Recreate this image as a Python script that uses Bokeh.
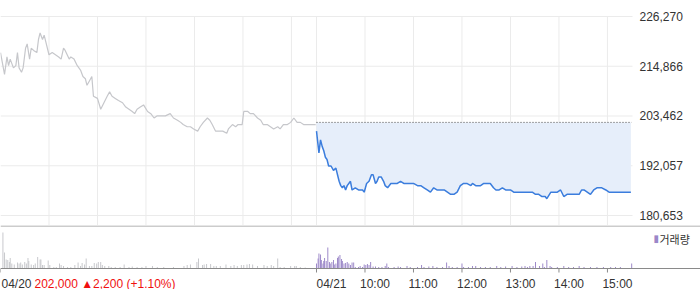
from bokeh.plotting import figure
from bokeh.layouts import column
from bokeh.models import Range1d, Span
from bokeh.core.properties import value
from bokeh.embed import file_html
from bokeh.resources import INLINE

# ---------------- data ----------------
day_labels = ["04/20", "04/21"]
hour_labels = ["10:00", "11:00", "12:00", "13:00", "14:00", "15:00"]
session_len = 391          # minutes 09:00..15:30 inclusive
prev_close = 202000
price_text = "202,000 ▲2,200 (+1.10%)"
legend_text = "거래량"
y_ticks = [180653, 192057, 203462, 214866, 226270]

# 04/20 price (minutes after 09:00)
d1_min = [0, 5, 8, 10, 12, 16, 19, 21, 23, 26, 28, 31, 33, 36, 38, 41, 45, 47, 49, 52,
          54, 56, 60, 64, 68, 72, 75, 78, 80, 85, 87, 91, 95, 99, 102, 105, 107, 110, 113, 115,
          120, 124, 128, 132, 135, 138, 142, 146, 151, 155, 159, 163, 166, 169, 173, 177, 182, 186, 190, 194,
          198, 204, 210, 214, 219, 223, 226, 231, 235, 239, 244, 247, 251, 256, 259, 262, 266, 270, 275, 280,
          282, 287, 291, 294, 299, 301, 306, 309, 313, 318, 322, 325, 330, 334, 338, 343, 346, 350, 355, 359,
          363, 367, 371, 375, 381, 387, 390]
d1_price = [218000, 213000, 217000, 215000, 216500, 214500, 215000, 218000, 214500, 213500,
            214500, 219000, 220000, 216500, 219000, 218500, 218000, 221000, 222500, 221000,
            222000, 220500, 217500, 218000, 217500, 217000, 216500, 219000, 218500, 216500,
            217000, 216500, 215000, 214000, 212500, 212000, 210500, 211500, 212500, 208000,
            207500, 205000, 206500, 208000, 209000, 208000, 207500, 207000, 206500, 205500,
            205000, 204500, 204000, 205000, 205500, 206000, 204500, 204000, 203000, 203500,
            203500, 203500, 204000, 203000, 202500, 202000, 201500, 201000, 201000, 200500,
            200000, 201000, 202000, 203000, 202500, 201500, 200000, 200000, 200000, 199500,
            200500, 201500, 201000, 201500, 201500, 204500, 204500, 204000, 204000, 203000,
            202500, 201500, 201500, 201000, 200500, 201000, 200500, 201500, 201500, 202000,
            203000, 202000, 202000, 201500, 201500, 201500, 201500]

# 04/21 price (minutes after 09:00)
d2_min = [0, 3, 5, 7, 9, 11, 13, 15, 18, 21, 24, 26, 28, 30, 32, 34, 36, 38, 40, 42,
          44, 48, 52, 57, 59, 62, 65, 68, 70, 73, 75, 77, 80, 83, 85, 88, 92, 96, 100, 104,
          108, 112, 116, 120, 125, 129, 133, 137, 141, 145, 149, 153, 158, 162, 166, 170, 174, 178, 182, 186,
          191, 193, 197, 203, 207, 211, 215, 219, 222, 226, 230, 234, 240, 244, 250, 257, 263, 267, 271, 275,
          279, 283, 285, 290, 294, 298, 302, 306, 310, 314, 320, 325, 328, 331, 335, 339, 343, 347, 353, 358,
          362, 368, 374, 382, 389]
d2_price = [200000, 195000, 198000, 196500, 195500, 194000, 193500, 192000, 192000, 191000,
            191500, 190000, 188500, 187500, 187000, 187500, 186500, 187500, 188000, 188500,
            186500, 187000, 186500, 186500, 186000, 188000, 188500, 190000, 190000, 188000,
            188500, 189500, 189500, 188500, 187500, 187000, 188000, 188000, 188000, 188500,
            188000, 188000, 188000, 188000, 187500, 187500, 187000, 186500, 186000, 187000,
            186500, 186500, 186500, 186000, 185500, 185500, 186000, 187500, 188000, 188000,
            187500, 188000, 187500, 187500, 188000, 188000, 188000, 187000, 186500, 186500,
            187000, 186500, 186500, 186000, 186000, 186000, 186000, 186000, 185500, 185500,
            185000, 185000, 184500, 186000, 186000, 186000, 186500, 185000, 185500, 185500,
            185500, 185500, 186500, 186500, 186000, 185500, 186500, 187000, 187000, 186500,
            186000, 186000, 186000, 186000, 186000]

# volume (shares per minute)
v1_min = [3, 5, 7, 9, 11, 12, 14, 17, 21, 23, 25, 27, 30, 32, 34, 35, 38, 41, 43, 46,
          49, 50, 52, 54, 59, 61, 66, 69, 73, 75, 78, 83, 87, 92, 96, 99, 101, 104, 106, 110,
          113, 116, 119, 121, 124, 126, 129, 134, 137, 142, 148, 153, 159, 163, 169, 175, 180, 188, 194, 202,
          214, 227, 231, 235, 243, 245, 250, 252, 255, 260, 264, 267, 272, 279, 285, 289, 293, 298, 301, 305,
          308, 312, 318, 326, 330, 335, 338, 343, 346, 351, 359, 364, 366, 371, 377, 386]
v1_vol = [18000, 8000, 4500, 4200, 3300, 5300, 2500, 2000, 3000, 2500, 3000, 2000, 3300, 2500, 5300, 3700, 2000, 1700, 2500, 5800,
          4500, 4500, 1700, 1700, 4000, 1700, 800, 800, 2500, 1700, 1300, 800, 700, 1700, 3000, 1300, 2800, 2000, 5000, 1200,
          1300, 2800, 2500, 3300, 3300, 1700, 1300, 1200, 800, 700, 800, 2000, 800, 1000, 700, 700, 1300, 1200, 700, 700,
          800, 1200, 1700, 2000, 3300, 5000, 1700, 2000, 2300, 2300, 1300, 1300, 1300, 2000, 1200, 1700, 1300, 1700, 1700, 2000,
          2300, 2000, 1300, 1700, 1200, 1700, 1300, 5000, 800, 800, 1200, 1200, 1300, 800, 500, 300]

v2_min = [0, 2, 3, 5, 6, 8, 9, 10, 12, 14, 16, 17, 19, 21, 22, 24, 26, 27, 29, 31,
          32, 34, 36, 38, 40, 42, 44, 46, 48, 52, 54, 57, 59, 61, 63, 65, 67, 70, 73, 77,
          81, 85, 87, 89, 96, 101, 104, 112, 116, 125, 130, 133, 139, 144, 149, 156, 161, 164, 168, 174,
          180, 182, 188, 193, 197, 203, 209, 215, 223, 228, 234, 242, 248, 254, 258, 261, 264, 268, 271, 276,
          280, 282, 285, 289, 291, 298, 306, 312, 318, 325, 331, 339, 347, 355, 364, 370, 376, 390]
v2_vol = [2500, 5000, 7500, 7000, 4200, 2500, 3800, 5300, 3800, 10500, 3300, 2500, 3300, 4300, 2000, 2500, 5300, 6000, 6700, 4700,
          3700, 2500, 2800, 3300, 2500, 1700, 3000, 3000, 800, 800, 1300, 800, 2000, 1700, 2300, 1700, 3300, 1000, 1000, 800,
          700, 1300, 2500, 700, 700, 1000, 800, 1300, 700, 700, 1700, 800, 1000, 1300, 700, 800, 3000, 1300, 800, 800,
          2500, 800, 700, 1300, 1200, 700, 700, 800, 1300, 800, 1000, 1300, 800, 1000, 1300, 800, 1200, 1300, 3300, 1200,
          2500, 800, 4300, 1200, 800, 800, 1300, 700, 800, 1200, 800, 800, 700, 700, 700, 700, 700, 2500]

# ---------------- layout constants ----------------
W, H_PRICE, H_VOL = 700, 225, 64
PLOT_W = 632                      # width of the chart area (data part)
x_end = 2 * session_len
X_PER_PX = x_end / PLOT_W
tick_step = y_ticks[1] - y_ticks[0]
PRICE_PER_PX = tick_step / 49.75
VOL_PER_PX = 500
FONT = "Liberation Sans"

d2_x = [session_len + m for m in d2_min]
v2_x = [session_len + m for m in v2_min]
hour_ticks_d1 = [60 * h for h in range(1, 7)]
hour_ticks_d2 = [session_len + 60 * h for h in range(1, 7)]
grid_ticks = hour_ticks_d1 + [session_len] + hour_ticks_d2

# ---------------- price panel ----------------
y_lo = y_ticks[0] - 10 * PRICE_PER_PX
y_hi = y_ticks[-1] + 16 * PRICE_PER_PX
p = figure(width=W, height=H_PRICE, x_range=Range1d(0, W * X_PER_PX), y_range=Range1d(y_lo, y_hi),
           x_axis_location=None, y_axis_location=None,
           output_backend="svg", toolbar_location=None,
           min_border_left=0, min_border_right=0, min_border_top=0, min_border_bottom=0)
p.outline_line_color = None
p.grid.visible = False

GRID = "#ebebeb"
# grid lines
p.segment(x0=grid_ticks, y0=[y_lo] * len(grid_ticks), x1=grid_ticks, y1=[y_ticks[-1]] * len(grid_ticks),
          line_color=GRID, line_width=1)
p.segment(x0=[0] * len(y_ticks), y0=y_ticks, x1=[x_end] * len(y_ticks), y1=y_ticks,
          line_color=GRID, line_width=1)

p.varea(x=d2_x, y1=d2_price, y2=[prev_close] * len(d2_x), fill_color="#e6eefa")
p.line([session_len, x_end - 1], [prev_close, prev_close], line_color="#444444",
       line_dash="1 2", line_width=1)
p.line(d1_min, d1_price, line_color="#c6c7cb", line_width=1.2)
p.line(d2_x, d2_price, line_color="#3b7ddd", line_width=1.5)

# price scale labels (right side)
p.text(x=[x_end] * len(y_ticks), y=y_ticks, text=[f"{t:,}" for t in y_ticks],
       x_offset=7, text_align="left", text_baseline="middle",
       text_font=value(FONT), text_font_size="12px", text_color="#333333")

# ---------------- volume panel (with time axis drawn inside) ----------------
vol_top = 43 * VOL_PER_PX
vol_bottom = -21 * VOL_PER_PX
v = figure(width=W, height=H_VOL, x_range=p.x_range, y_range=Range1d(vol_bottom, vol_top),
           x_axis_location=None, y_axis_location=None,
           output_backend="svg", toolbar_location=None,
           min_border_left=0, min_border_right=0, min_border_top=0, min_border_bottom=0)
v.outline_line_color = None
v.grid.visible = False

v.vbar(x=v1_min, top=v1_vol, width=1.2, fill_color="#c6c7cb", line_color=None)
v.vbar(x=v2_x, top=v2_vol, width=1.2, fill_color="#9b87c8", line_color=None)

# separator between panels and the time axis line
v.add_layout(Span(location=vol_top - 0.5 * VOL_PER_PX, dimension="width",
                  line_color="#9a9a9a", line_width=1))
v.add_layout(Span(location=0, dimension="width", line_color="#8a8a8a", line_width=1))

# tick marks
axis_ticks = [0, session_len] + hour_ticks_d2
v.segment(x0=axis_ticks, y0=[0] * len(axis_ticks), x1=axis_ticks,
          y1=[-4 * VOL_PER_PX] * len(axis_ticks), line_color="#8a8a8a", line_width=1)

lab_y = -15 * VOL_PER_PX
def add_text(x, text, color="#333333", xoff=0):
    v.text(x=[x], y=[lab_y], text=[text], text_align="left", text_baseline="middle",
           x_offset=xoff, text_font=value(FONT), text_font_size="12px", text_color=color)

add_text(0, day_labels[0], xoff=1)
add_text(0, price_text, color="#f01010", xoff=34)
add_text(session_len, day_labels[1])
for t, lab in zip(hour_ticks_d2, hour_labels):
    add_text(t, lab, xoff=-5)

# legend
leg_y = 30 * VOL_PER_PX
v.text(x=[653 * X_PER_PX], y=[leg_y], text=["▮"], text_align="left", text_baseline="middle",
       text_font=value("DejaVu Sans"), text_font_size="10px", text_color="#9b87c8")
v.text(x=[659 * X_PER_PX], y=[leg_y], text=[legend_text], text_align="left", text_baseline="middle",
       text_font=value("Noto Sans CJK KR"), text_font_size="11px", text_color="#333333")

layout = column(p, v, spacing=0)
open("out.html", "w").write(file_html(layout, INLINE))
